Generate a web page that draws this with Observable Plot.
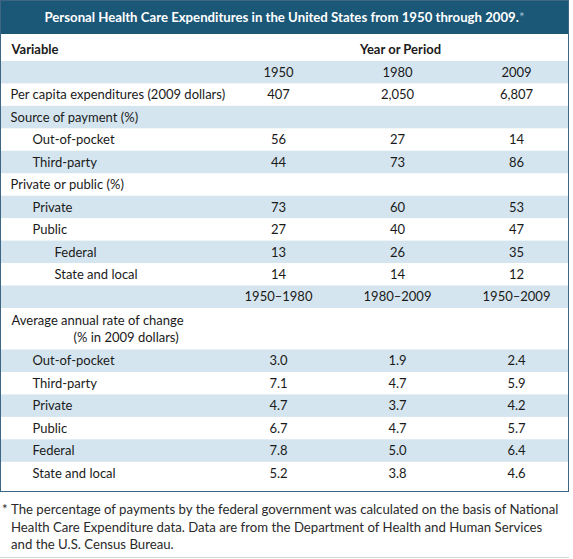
<!DOCTYPE html>
<html>
<head>
<meta charset="utf-8">
<script src="https://cdn.jsdelivr.net/npm/d3@7"></script>
<script src="https://cdn.jsdelivr.net/npm/@observablehq/plot@0.6"></script>
<style>
  body { margin: 0; background: #fff; font-family: Lato, "Noto Sans", sans-serif; color: #1a1a1a; }
  #tbl { width: 567px; border: 1px solid #3c6683; }
  #title { height: 33px; line-height: 33px; background: #1b5777; color: #fff; text-align: center;
           font-weight: 700; font-size: 13.2px; }
  #title .star { color: #9fc0d4; font-weight: 400; }
  #plot svg { display: block; }
  #foot { width: 569px; box-sizing: border-box; display: flex; font-size: 13.2px; line-height: 17.5px;
          color: #2a2a2a; padding: 9px 0 3px 2px; border-bottom: 1px solid #d8d8d8; white-space: nowrap; }
  #foot .mark { width: 9px; flex: none; }
</style>
</head>
<body>
<div id="tbl">
  <div id="title"></div>
  <div id="plot"></div>
</div>
<div id="foot"></div>
<script>
// ---- data ----
const titleText = "Personal Health Care Expenditures in the United States from 1950 through 2009.";
const headVariable = "Variable";
const headYear = "Year or Period";
const years = ["1950", "1980", "2009"];
const periods = ["1950\u20131980", "1980\u20132009", "1950\u20132009"];

const levelLabels = ["Per capita expenditures (2009 dollars)", "Source of payment (%)", "Out-of-pocket", "Third-party",
  "Private or public (%)", "Private", "Public", "Federal", "State and local"];
const levelIndent = [0, 0, 1, 1, 0, 1, 1, 2, 2];
const level1950 = [407, null, 56, 44, null, 73, 27, 13, 14];
const level1980 = [2050, null, 27, 73, null, 60, 40, 26, 14];
const level2009 = [6807, null, 14, 86, null, 53, 47, 35, 12];

const rateTitle = ["Average annual rate of change", "(% in 2009 dollars)"];
const rateLabels = ["Out-of-pocket", "Third-party", "Private", "Public", "Federal", "State and local"];
const rate1950_1980 = [3.0, 7.1, 4.7, 6.7, 7.8, 5.2];
const rate1980_2009 = [1.9, 4.7, 3.7, 4.7, 5.0, 3.8];
const rate1950_2009 = [2.4, 5.9, 4.2, 5.7, 6.4, 4.6];

const footLines = [
  "The percentage of payments by the federal government was calculated on the basis of National",
  "Health Care Expenditure data. Data are from the Department of Health and Human Services",
  "and the U.S. Census Bureau."
];

// ---- build table rows ----
const cols = ["c1", "c2", "c3"];
const fmtInt = d3.format(",");
const fmtRate = d3.format(".1f");
const rows = [];
let cursor = 0;
function addRow(kind, h, props) {
  rows.push({kind, y1: cursor, y2: cursor + h, ym: cursor + h / 2, ...props});
  cursor += h;
}
addRow("hdr", 1.2, {});
addRow("yr", 1, {cells: years});
levelLabels.forEach((l, i) => addRow("data", 1, {label: l, indent: levelIndent[i],
  cells: [level1950[i], level1980[i], level2009[i]].map(v => v == null ? null : fmtInt(v))}));
addRow("per", 1, {cells: periods});
addRow("avg", 1.85, {});
rateLabels.forEach((l, i) => addRow("rate", 1, {label: l, indent: 1,
  cells: [rate1950_1980[i], rate1980_2009[i], rate1950_2009[i]].map(fmtRate)}));
const total = cursor + 0.3;

const stripes = rows.filter((r, i) => i % 2 === 1);
const cells = rows.flatMap(r => (r.cells || []).map((t, j) => ({col: cols[j], text: t, ym: r.ym}))).filter(c => c.text != null);
const labeled = rows.filter(r => r.label);
const avg = rows.find(r => r.kind === "avg");
const hdr = rows.find(r => r.kind === "hdr");

const W = 567, H = 457;
const textStyle = {fontSize: 13, fill: "#1a1a1a"};

const plot = Plot.plot({
  width: W, height: H,
  margin: 0,
  style: {fontFamily: "Lato, 'Noto Sans', sans-serif", fontSize: "13px", background: "#fff"},
  x: {type: "point", domain: cols, range: [277, 515], padding: 0, axis: null},
  y: {type: "linear", domain: [0, total], range: [0, H], axis: null},
  marks: [
    Plot.rect(stripes, {y1: "y1", y2: "y2", fill: "#d5e5ef"}),
    Plot.text([hdr], {frameAnchor: "left", dx: 10, y: d => d.ym + 0.07, text: () => headVariable, fontWeight: 700, ...textStyle}),
    Plot.text([hdr], {x: () => "c2", dx: 3, y: d => d.ym + 0.07, text: () => headYear, fontWeight: 700, ...textStyle}),
    Plot.text(cells, {x: "col", y: "ym", text: "text", ...textStyle}),
    ...[0, 1, 2].map(level => Plot.text(labeled.filter(r => r.indent === level),
      {frameAnchor: "left", dx: 9 + level * 22, y: "ym", text: "label", textAnchor: "start", ...textStyle})),
    Plot.text([avg], {frameAnchor: "left", dx: 10, y: d => d.y1 + 0.53, text: () => rateTitle[0], textAnchor: "start", ...textStyle}),
    Plot.text([avg], {frameAnchor: "left", dx: 72, y: d => d.y1 + 1.29, text: () => rateTitle[1], textAnchor: "start", ...textStyle})
  ]
});

document.getElementById("title").innerHTML = titleText + '<span class="star">*</span>';
document.getElementById("plot").append(plot);
document.getElementById("foot").innerHTML = '<span class="mark">*</span><div>' + footLines.join("<br>") + '</div>';
</script>
</body>
</html>
